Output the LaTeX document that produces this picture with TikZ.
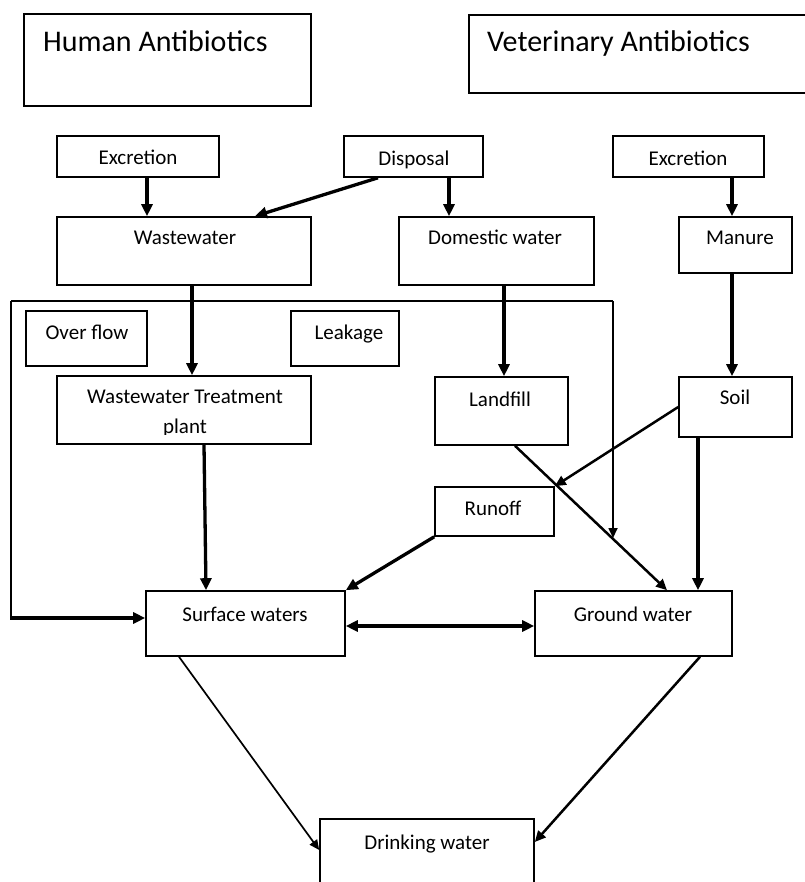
\documentclass[tikz,border=0pt]{standalone}
\usepackage{fontspec}
\setmainfont{Carlito}
\usetikzlibrary{arrows.meta,calc,fit}
\newcommand\mkbox[5]{\node[box, fit={(#2,#3)(#4,#5)}] (#1) {};}
\begin{document}
\begin{tikzpicture}[x=1pt,y=-1pt,
  box/.style={draw, line width=1.6pt, inner sep=0pt},
  lbl/.style={font=\fontsize{21}{25}\selectfont, inner sep=0pt, anchor=base},
  big/.style={font=\fontsize{30}{34}\selectfont, inner sep=0pt, anchor=base west},
  thk/.style={line width=3.3pt, -{Triangle[length=12pt,width=11pt]}},
  med/.style={line width=2.5pt, -{Triangle[length=11pt,width=10pt]}},
  thn/.style={line width=1.7pt, -{Triangle[length=10pt,width=9pt]}},
  plain/.style={line width=1.6pt}
]
\useasboundingbox (0,0) rectangle (804,882);

% boxes
\mkbox{human}{24}{14}{311}{106}
\node[big] at (43,52) {Human Antibiotics};
\mkbox{vet}{469}{15}{814}{93}
\node[big] at (487,52) {Veterinary Antibiotics};

\mkbox{excL}{57}{136}{219}{177}
\node[lbl] at (138,165) {Excretion};
\mkbox{disp}{344}{136}{483}{177}
\node[lbl] at (414,166) {Disposal};
\mkbox{excR}{613}{136}{764}{177}
\node[lbl] at (688,166) {Excretion};

\mkbox{ww}{57}{217}{311}{285}
\node[lbl] at (185,245) {Wastewater};
\mkbox{dom}{399}{217}{594}{285}
\node[lbl] at (495,245) {Domestic water};
\mkbox{man}{679}{217}{792}{273}
\node[lbl] at (740,245) {Manure};

\mkbox{over}{26}{311}{147}{366}
\node[lbl] at (87,339) {Over flow};
\mkbox{leak}{291}{311}{399}{366}
\node[lbl] at (349,339) {Leakage};

\mkbox{wtp}{57}{376}{311}{444}
\node[lbl] at (185,403) {Wastewater Treatment};
\begin{scope}
  \clip (57,380) rectangle (311,434.5);
  \node[lbl] at (185,433) {plant};
\end{scope}
\mkbox{land}{435}{377}{568}{445}
\node[lbl] at (500,406) {Landfill};
\mkbox{soil}{679}{377}{792}{437}
\node[lbl] at (735,404) {Soil};

\mkbox{run}{435}{487}{554}{536}
\node[lbl] at (493,515) {Runoff};

\mkbox{surf}{146}{591}{345}{656}
\node[lbl] at (245,621) {Surface waters};
\mkbox{gw}{535}{591}{732}{656}
\node[lbl] at (633,621) {Ground water};

\mkbox{drink}{320}{819}{534}{889}
\node[lbl] at (427,849) {Drinking water};

% frame
\coordinate (f1) at (11,301);
\coordinate (f2) at (613,301);
\coordinate (f3) at (613,538);
\coordinate (f4) at (11,618);
\draw[plain] (f1) -- (f2);
\draw[thn] (f2) -- (f3);
\draw[plain] (f1) -- (f4);
\draw[thk] ([xshift=-0.8pt]f4) -- (f4 -| surf.west);

% connectors
\draw[thk] ([xshift=9pt]excL.south) coordinate (a1) -- (a1 |- ww.north);
\draw[thk] ([xshift=-35.5pt]disp.south) -- ([xshift=71pt]ww.north);
\draw[thk] ([xshift=35.5pt]disp.south) coordinate (a2) -- (a2 |- dom.north);
\draw[thk] ([xshift=43.5pt]excR.south) coordinate (a3) -- (a3 |- man.north);
\draw[thk] ([xshift=8pt]ww.south) coordinate (a4) -- (a4 |- wtp.north);
\draw[thk] ([xshift=7.5pt]dom.south) coordinate (a5) -- (a5 |- land.north);
\draw[thk] ([xshift=-3.5pt]man.south) coordinate (a6) -- (a6 |- soil.north);
\draw[thk] ([xshift=20pt]wtp.south) -- ([xshift=-39.5pt]surf.north);
\draw[thk] (run.south west) -- (surf.north east);
\draw[med] (soil.west) -- (run.north east);
\draw[med] ([xshift=13.5pt]land.south) -- ([xshift=33.5pt]gw.north);
\draw[thk] ([xshift=-37.5pt]soil.south) coordinate (a7) -- (a7 |- gw.north);
\draw[line width=3.5pt, {Triangle[length=12pt,width=11pt]}-{Triangle[length=12pt,width=11pt]}]
  ([yshift=-2.5pt]surf.east) -- ([yshift=-2.5pt]gw.west);
\draw[thn] ([xshift=-66.5pt]surf.south) -- ([yshift=4pt]drink.west);
\draw[med] ([xshift=66.5pt]gw.south) -- ([yshift=12pt]drink.east);
\end{tikzpicture}
\end{document}
